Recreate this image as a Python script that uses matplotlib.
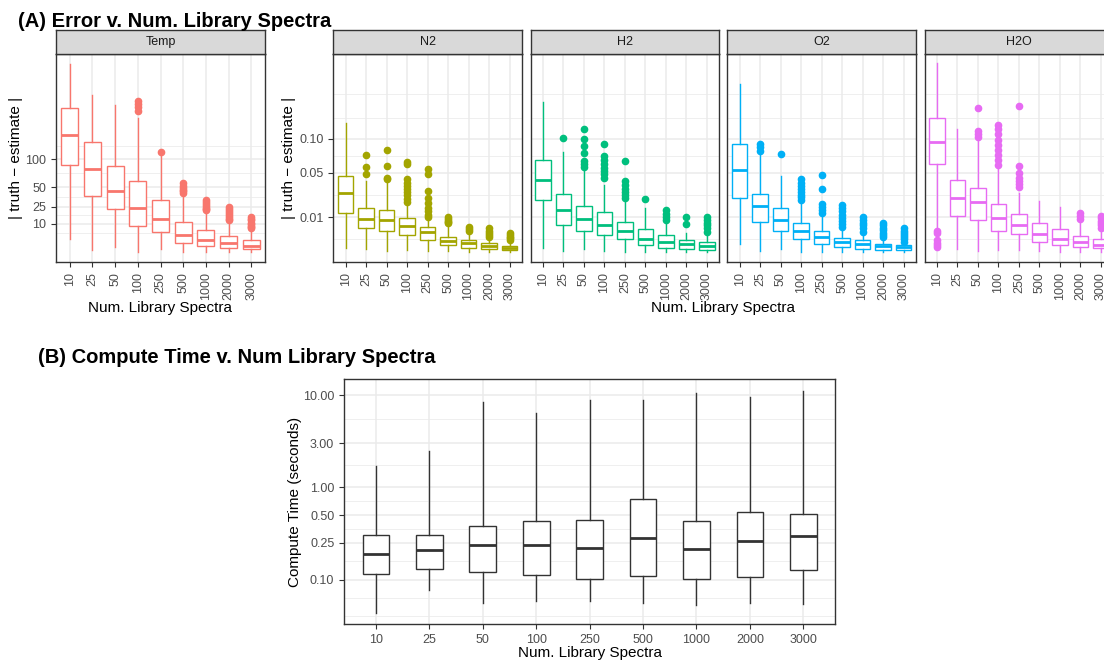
import numpy as np
import matplotlib
matplotlib.use("Agg")
import matplotlib.pyplot as plt

plt.rcParams['font.family'] = ['Liberation Sans', 'DejaVu Sans']

n_lib = ['10', '25', '50', '100', '250', '500', '1000', '2000', '3000']

# (whisker low, q1, median, q3, whisker high)
temp_box = [(2.4, 88.9, 158, 236.9, 403), (0.17, 37.5, 80, 139, 283),
            (0.58, 22.2, 44.6, 87, 247), (0.03, 8.9, 23.5, 59.4, 205),
            (0.24, 5.2, 13.6, 32, 110.9), (0.05, 1.3, 4.0, 11.4, 36.6),
            (0.03, 0.7, 2.25, 6.2, 18.4), (0.03, 0.43, 1.26, 3.6, 11.6),
            (0.03, 0.24, 0.7, 2.16, 6.4)]
temp_out = [[], [], [], [261, 250, 240, 228], [116.7],
            [55.7, 52, 49, 46, 44, 42],
            [32.5, 30, 28, 26, 24, 22.5, 21.5],
            [24.9, 23, 21, 19, 17, 15.5, 14, 12.8],
            [15.5, 14, 12.5, 11, 10, 9, 8, 7.3]]

n2_box = [(0.0002, 0.0125, 0.0279, 0.0461, 0.129), (0.000135, 0.00483, 0.00925, 0.016, 0.040),
          (0.00006, 0.00386, 0.0087, 0.0142, 0.0375), (0.0001, 0.0026, 0.0059, 0.0096, 0.0192),
          (0.00006, 0.0014, 0.0035, 0.0055, 0.0089), (0.00006, 0.00055, 0.00125, 0.00215, 0.0062),
          (0.000025, 0.00026, 0.0008, 0.0014, 0.0031), (0.000025, 0.000135, 0.00046, 0.0008, 0.00176),
          (0.00001, 0.0001, 0.00026, 0.00046, 0.00106)]
n2_out = [[], [0.074, 0.057, 0.0486], [0.0812, 0.058, 0.044, 0.042],
          [0.064, 0.061, 0.042, 0.038, 0.035, 0.032, 0.029, 0.026, 0.023, 0.0205],
          [0.054, 0.048, 0.030, 0.0232, 0.0192, 0.016, 0.0135, 0.0115, 0.0103],
          [0.0103, 0.0092, 0.0082, 0.0075, 0.0070], [0.0052, 0.0046, 0.0040],
          [0.0048, 0.0040, 0.0033, 0.0027, 0.00215], [0.0031, 0.0026, 0.0022, 0.0018, 0.0014]]

h2_box = [(0.0002, 0.0216, 0.0415, 0.0666, 0.1757), (0.00005, 0.00606, 0.0144, 0.0272, 0.079),
          (0.000135, 0.00386, 0.0089, 0.0174, 0.053), (0.00006, 0.0026, 0.0062, 0.0129, 0.0357),
          (0.00001, 0.0016, 0.00386, 0.0077, 0.0205), (0.000025, 0.00051, 0.0016, 0.00446, 0.016),
          (0.00001, 0.00026, 0.00096, 0.0025, 0.0077), (0.00001, 0.000155, 0.00065, 0.00145, 0.0031),
          (0.00001, 0.0001, 0.00046, 0.00106, 0.0026)]
h2_out = [[], [0.1017], [0.119, 0.1005, 0.0886, 0.0765, 0.065, 0.061, 0.057],
          [0.0918, 0.0724, 0.066, 0.061, 0.056, 0.052, 0.048, 0.0438],
          [0.0656, 0.0404, 0.036, 0.032, 0.029, 0.026, 0.0232], [0.0224],
          [0.0144, 0.012, 0.010, 0.0086], [0.0103, 0.0065],
          [0.010, 0.0085, 0.0072, 0.006, 0.0048, 0.0036]]

o2_box = [(0.00069, 0.0235, 0.0528, 0.0919, 0.219), (0.00006, 0.0077, 0.0172, 0.0272, 0.0765),
          (0.000135, 0.00386, 0.0084, 0.016, 0.0461), (0.00001, 0.0016, 0.00386, 0.0072, 0.0205),
          (0.00001, 0.00073, 0.002, 0.00386, 0.0113), (0.00001, 0.00029, 0.00096, 0.0019, 0.0048),
          (0.00001, 0.000155, 0.00065, 0.00133, 0.003), (0.00001, 0.00011, 0.00046, 0.00073, 0.00176),
          (0.00001, 0.00011, 0.00035, 0.00055, 0.001)]
o2_out = [[], [0.0913, 0.086, 0.0806], [0.0755],
          [0.042, 0.038, 0.035, 0.032, 0.029, 0.026, 0.024, 0.0218],
          [0.047, 0.0317, 0.0184, 0.0165, 0.0145, 0.0127],
          [0.0179, 0.0155, 0.0135, 0.0115, 0.0098, 0.0082, 0.0068, 0.0055],
          [0.01, 0.0085, 0.0072, 0.006, 0.0048, 0.0036],
          [0.007, 0.006, 0.005, 0.0041, 0.0033, 0.0027, 0.00215],
          [0.0048, 0.004, 0.0033, 0.0027, 0.0021, 0.0016, 0.00106]]

h2o_box = [(0.00446, 0.0615, 0.0948, 0.139, 0.2757), (0.000135, 0.0107, 0.0232, 0.0412, 0.1187),
           (0.00005, 0.0086, 0.0202, 0.033, 0.098), (0.0001, 0.00396, 0.0096, 0.0189, 0.0574),
           (0.0001, 0.0028, 0.0063, 0.0117, 0.0282), (0.00005, 0.00106, 0.0029, 0.007, 0.021),
           (0.000025, 0.00055, 0.0016, 0.00446, 0.0163), (0.000025, 0.00029, 0.00096, 0.0024, 0.0085),
           (0.00001, 0.0002, 0.00055, 0.00154, 0.0045)]
h2o_out = [[0.00396, 0.0031, 0.0014, 0.0009, 0.00055, 0.00035], [],
           [0.162, 0.1144, 0.108, 0.103],
           [0.126, 0.118, 0.108, 0.098, 0.089, 0.081, 0.074, 0.067, 0.0597],
           [0.1658, 0.0584, 0.049, 0.0431, 0.040, 0.037, 0.034], [], [],
           [0.0123, 0.0105, 0.0089], [0.0107, 0.0095, 0.0083, 0.0072, 0.006, 0.0048]]

time_box = [(0.0432, 0.114, 0.191, 0.303, 1.70), (0.0773, 0.1294, 0.210, 0.303, 2.48),
            (0.0554, 0.122, 0.236, 0.385, 8.34), (0.0593, 0.111, 0.239, 0.432, 6.38),
            (0.0583, 0.101, 0.220, 0.447, 8.83), (0.0554, 0.109, 0.281, 0.753, 8.83),
            (0.0532, 0.1026, 0.215, 0.436, 10.4), (0.0554, 0.108, 0.262, 0.541, 9.59),
            (0.0542, 0.126, 0.297, 0.519, 11.1)]

gases = ['N2', 'H2', 'O2', 'H2O']
gas_boxes = [n2_box, h2_box, o2_box, h2o_box]
gas_outs = [n2_out, h2_out, o2_out, h2o_out]
gas_colors = ['#A3A500', '#00BF7D', '#00B0F6', '#E76BF3']
temp_color = '#F8766D'

W, H = 1104, 660
fig = plt.figure(figsize=(W / 100, H / 100), dpi=100)


def px_axes(left, top, right, bottom):
    return fig.add_axes([left / W, 1 - bottom / H, (right - left) / W, (bottom - top) / H])


def ssqrt(x):
    return np.sign(x) * np.sqrt(np.abs(x))


def ssq(y):
    return np.sign(y) * y ** 2


def stats(box, out):
    return [dict(whislo=b[0], q1=b[1], med=b[2], q3=b[3], whishi=b[4], fliers=f)
            for b, f in zip(box, out)]


def draw_box(ax, st, col, width, lw=1.0):
    ax.bxp(st, positions=range(1, 10), widths=width, patch_artist=True, showcaps=False,
           boxprops=dict(facecolor='white', edgecolor=col, linewidth=lw),
           whiskerprops=dict(color=col, linewidth=lw),
           medianprops=dict(color=col, linewidth=2 * lw),
           flierprops=dict(marker='o', markerfacecolor=col, markeredgecolor=col,
                           markersize=4.5, linestyle='none'))


def style(ax):
    ax.set_axisbelow(True)
    for s in ax.spines.values():
        s.set_color('#333333')
        s.set_linewidth(1.0)
    ax.tick_params(which='major', direction='out', length=3.5, width=0.8, color='#333333',
                   labelcolor='#4D4D4D', labelsize=9)
    ax.tick_params(which='minor', length=0)
    ax.grid(which='major', color='#EBEBEB', linewidth=1.1)
    ax.grid(which='minor', axis='y', color='#EBEBEB', linewidth=0.55)
    ax.set_xlim(0.4, 9.6)


def strip(left, right, label):
    s = px_axes(left, 30, right, 54)
    s.set_facecolor('#D9D9D9')
    s.set_xticks([])
    s.set_yticks([])
    for sp in s.spines.values():
        sp.set_color('#333333')
        sp.set_linewidth(1.0)
    s.text(0.5, 0.5, label, transform=s.transAxes, ha='center', va='center',
           fontsize=9, color='#1A1A1A')


# ---- (A) Temp
ax = px_axes(56, 54, 265, 262)
ax.set_yscale('function', functions=(ssqrt, ssq))
draw_box(ax, stats(temp_box, temp_out), temp_color, 0.75)
style(ax)
ax.set_ylim(-0.73, 446.5)
ax.set_yticks([10, 25, 50, 100])
ax.set_yticklabels(['10', '25', '50', '100'])
ax.set_yticks([5.0, 16.6, 36.5, 73, 131], minor=True)
ax.set_xticks(range(1, 10))
ax.set_xticklabels(n_lib, rotation=90)
strip(56, 265, 'Temp')
fig.text(16 / W, 1 - 158 / H, '| truth \u2212 estimate |', rotation=90, ha='center', va='center',
         fontsize=11)
fig.text(160.5 / W, 1 - 308 / H, 'Num. Library Spectra', ha='center', va='center', fontsize=11)

# ---- (A) gases
gas_left = [333.3, 530.7, 727.3, 924.7]
for i, gas in enumerate(gases):
    l = gas_left[i]
    ax = px_axes(l, 54, l + 188.5, 262)
    ax.set_yscale('function', functions=(ssqrt, ssq))
    draw_box(ax, stats(gas_boxes[i], gas_outs[i]), gas_colors[i], 0.75)
    style(ax)
    ax.set_ylim(-0.00055, 0.3034)
    ax.set_yticks([0.01, 0.05, 0.1])
    ax.set_yticklabels(['0.01', '0.05', '0.10'])
    ax.set_yticks([0.0015, 0.026, 0.073, 0.141, 0.193], minor=True)
    ax.set_xticks(range(1, 10))
    ax.set_xticklabels(n_lib, rotation=90)
    if i > 0:
        ax.tick_params(axis='y', left=False, labelleft=False)
    strip(l, l + 188.5, gas)
fig.text(288.5 / W, 1 - 158 / H, '| truth \u2212 estimate |', rotation=90, ha='center', va='center',
         fontsize=11)
fig.text(723 / W, 1 - 308 / H, 'Num. Library Spectra', ha='center', va='center', fontsize=11)

fig.text(18 / W, 1 - 27 / H, '(A) Error v. Num. Library Spectra', fontsize=14.5,
         fontweight='bold', ha='left', va='baseline')

# ---- (B) compute time
ax = px_axes(344, 379.3, 835.3, 624)
ax.set_yscale('log')
draw_box(ax, stats(time_box, [[]] * 9), '#333333', 0.5)
style(ax)
ax.set_ylim(0.0331, 14.8)
ax.set_yticks([0.1, 0.25, 0.5, 1, 3, 10])
ax.set_yticklabels(['0.10', '0.25', '0.50', '1.00', '3.00', '10.00'])
ax.yaxis.set_minor_formatter(plt.NullFormatter())
ax.set_yticks([0.0404, 0.0629, 0.158, 0.354, 0.707, 1.73, 5.48], minor=True)
ax.yaxis.set_minor_formatter(plt.NullFormatter())
ax.set_xticks(range(1, 10))
ax.set_xticklabels(n_lib)
fig.text(294.5 / W, 1 - 501.6 / H, 'Compute Time (seconds)', rotation=90, ha='center',
         va='center', fontsize=11)
fig.text(589.7 / W, 1 - 653.5 / H, 'Num. Library Spectra', ha='center', va='center', fontsize=11)
fig.text(38 / W, 1 - 362.7 / H, '(B) Compute Time v. Num Library Spectra', fontsize=14.5,
         fontweight='bold', ha='left', va='baseline')

fig.savefig('out.png', dpi=100, facecolor='white')
